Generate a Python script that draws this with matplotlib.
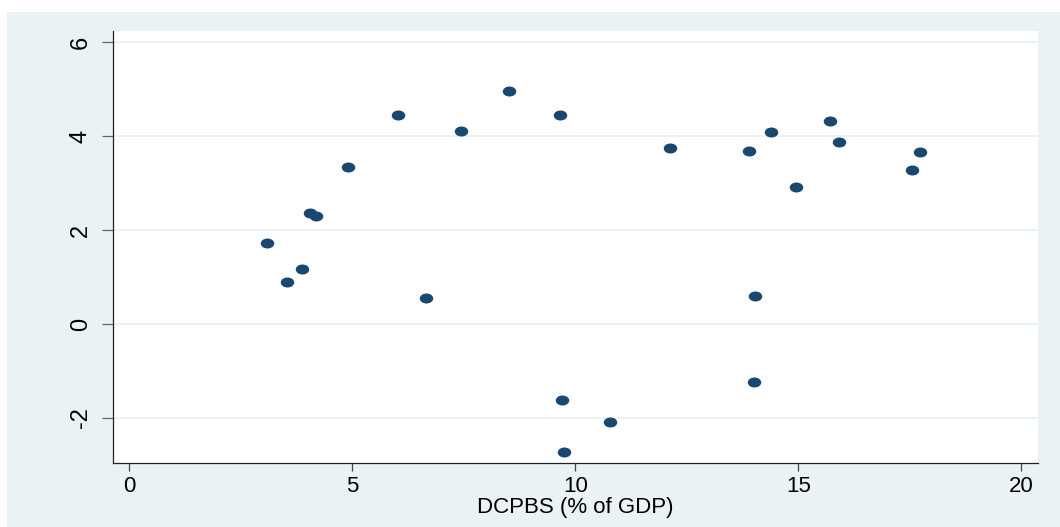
import matplotlib
matplotlib.use("Agg")
import matplotlib.pyplot as plt
from matplotlib.markers import MarkerStyle
from matplotlib.transforms import Affine2D
from matplotlib.patches import Rectangle

# Domestic credit to private sector by banks (% of GDP) vs. outcome variable
dcpbs = [3.08, 3.54, 3.87, 4.05, 4.19, 4.90, 6.03, 6.65, 7.43, 8.52,
         9.65, 9.70, 9.75, 10.78, 12.12, 13.89, 14.01, 14.04, 14.40,
         14.96, 15.71, 15.91, 17.55, 17.73]
outcome = [1.72, 0.90, 1.17, 2.36, 2.30, 3.34, 4.45, 0.55, 4.11, 4.96,
           4.45, -1.62, -2.72, -2.09, 3.74, 3.69, -1.23, 0.60, 4.08,
           2.91, 4.31, 3.87, 3.28, 3.67]

x_ticks = [0, 5, 10, 15, 20]
y_ticks = [-2, 0, 2, 4, 6]
x_title = "DCPBS (% of GDP)"

BG = "#EAF2F3"
NAVY = "#1A476F"

plt.rcParams["font.family"] = ["Liberation Sans", "DejaVu Sans"]

fig = plt.figure(figsize=(10.6, 5.27), dpi=100, facecolor="white")
W, H = 1060, 527
# graph region background
bg = Rectangle((7 / W, 0), 1 - 7 / W, 1 - 12 / H,
               transform=fig.transFigure, facecolor=BG,
               edgecolor="none", zorder=-10)
fig.add_artist(bg)

left, right, top, bottom = 112.7, 1037.7, 30.7, 462.7
ax = fig.add_axes([left / W, 1 - bottom / H, (right - left) / W, (bottom - top) / H])
ax.set_zorder(1)
ax.set_facecolor("white")

ax.set_xlim(-0.37, 20.37)
ax.set_ylim(-2.95, 6.24)

ax.set_xticks(x_ticks)
ax.set_yticks(y_ticks)
ax.set_xticklabels([str(t) for t in x_ticks], fontsize=16)
ax.set_yticklabels([str(t) for t in y_ticks], fontsize=17, rotation=90, va="center")

ax.grid(axis="y", color=BG, linewidth=1.4)
ax.grid(axis="x", visible=False)
ax.set_axisbelow(True)

for side in ("top", "right"):
    ax.spines[side].set_visible(False)
for side in ("left", "bottom"):
    ax.spines[side].set_color("#222222")
    ax.spines[side].set_linewidth(0.9)

ax.tick_params(axis="x", length=5.5, width=0.9, color="#444444", pad=4)
ax.tick_params(axis="y", length=7.6, width=0.9, color="#666666", pad=7.5)

ax.set_xlabel(x_title, fontsize=16, labelpad=0)

marker = MarkerStyle("o", transform=Affine2D().scale(1.35, 1.0))
ax.scatter(dcpbs, outcome, s=52, marker=marker, color=NAVY, linewidths=0, zorder=3)

fig.savefig("out.png", dpi=100, facecolor=fig.get_facecolor())
